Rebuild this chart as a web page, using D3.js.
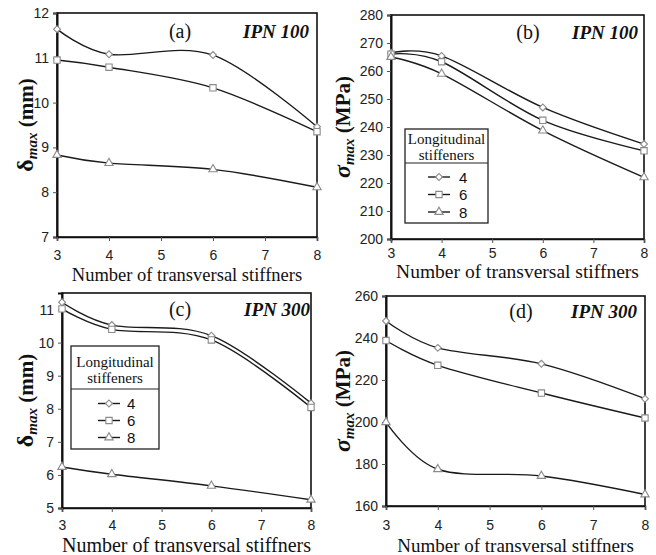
<!DOCTYPE html>
<html><head><meta charset="utf-8">
<script src="https://cdn.jsdelivr.net/npm/d3@7"></script>
<style>
body{margin:0;background:#fff;}
svg{display:block;}
.serif{font-family:'Liberation Serif','Times New Roman',serif;}
.sans{font-family:'Liberation Sans',Arial,sans-serif;}
</style></head>
<body>
<svg id="chart" width="656" height="555"></svg>
<script>
// ---------- data ----------
const xValues = [3, 4, 6, 8];
const xTicks = [3, 4, 5, 6, 7, 8];
const seriesNames = ["4", "6", "8"];

const aSeries4 = [11.64, 11.08, 11.06, 9.46];
const aSeries6 = [10.95, 10.79, 10.33, 9.35];
const aSeries8 = [8.83, 8.65, 8.51, 8.11];

const bSeries4 = [266.5, 265.4, 247.0, 233.9];
const bSeries6 = [266.0, 263.3, 242.4, 231.5];
const bSeries8 = [265.0, 259.0, 238.7, 222.0];

const cSeries4 = [11.22, 10.53, 10.21, 8.17];
const cSeries6 = [11.02, 10.40, 10.08, 8.04];
const cSeries8 = [6.24, 6.02, 5.67, 5.25];

const dSeries4 = [248.1, 235.3, 227.7, 211.1];
const dSeries6 = [238.8, 227.0, 213.8, 201.9];
const dSeries8 = [199.9, 177.5, 174.3, 165.5];

const aTicks = [7, 8, 9, 10, 11, 12];
const bTicks = [200, 210, 220, 230, 240, 250, 260, 270, 280];
const cTicks = [5, 6, 7, 8, 9, 10, 11];
const dTicks = [160, 180, 200, 220, 240, 260];

const xTitle = "Number of transversal stiffners";
const legendTitle = ["Longitudinal", "stiffeners"];

// ---------- layout ----------
const panels = [
  {series:[aSeries4,aSeries6,aSeries8], ticks:aTicks, domain:[7,12],
   box:{x0:57,x1:317,y0:13,y1:237}, sym:"δ", unit:" (mm)", symItalic:false,
   tag:"(a)", tagX:180, ipn:"IPN 100", ipnX:309, hdrY:38,
   xlabOff:18, xTitleY:281, xTitleSize:18.5, yTitleX:33, legend:null},
  {series:[bSeries4,bSeries6,bSeries8], ticks:bTicks, domain:[200,280],
   box:{x0:391,x1:644,y0:15,y1:239}, sym:"σ", unit:" (MPa)", symItalic:true,
   tag:"(b)", tagX:528, ipn:"IPN 100", ipnX:638, hdrY:39,
   xlabOff:14, xTitleY:278, xTitleSize:19.5, yTitleX:350,
   legend:{x0:405,x1:488,y0:129,ySep:163,y1:223,h1:139,h2:155,rows:[177,194.5,212],lx0:428,lx1:450,tx:459}},
  {series:[cSeries4,cSeries6,cSeries8], ticks:cTicks, domain:[5,11.5],
   box:{x0:62,x1:311,y0:293,y1:508}, sym:"δ", unit:" (mm)", symItalic:false,
   tag:"(c)", tagX:180, ipn:"IPN 300", ipnX:310, hdrY:316,
   xlabOff:17, xTitleY:552, xTitleSize:20, yTitleX:33,
   legend:{x0:71,x1:159,y0:346,ySep:389,y1:449,h1:362,h2:378,rows:[403.5,420.5,437.5],lx0:98,lx1:120,tx:127}},
  {series:[dSeries4,dSeries6,dSeries8], ticks:dTicks, domain:[160,260],
   box:{x0:386,x1:645,y0:296,y1:506}, sym:"σ", unit:" (MPa)", symItalic:true,
   tag:"(d)", tagX:521, ipn:"IPN 300", ipnX:637, hdrY:318,
   xlabOff:19, xTitleY:552, xTitleSize:19, yTitleX:350, legend:null}
];

const LINE = "#1a1a1a";
const MARK = "#8a8a8a";
const symbols = [
  {type:d3.symbolSquare, size:24, rot:45},
  {type:d3.symbolSquare, size:40, rot:0},
  {type:d3.symbolTriangle, size:30, rot:0}
];

const svg = d3.select("#chart");

function drawMarker(g, i, x, y) {
  const s = symbols[i];
  g.append("path")
    .attr("d", d3.symbol().type(s.type).size(s.size)())
    .attr("transform", `translate(${x},${y}) rotate(${s.rot})`)
    .attr("fill", "#fff")
    .attr("stroke", MARK)
    .attr("stroke-width", 1.1);
}

panels.forEach(p => {
  const b = p.box;
  const x = d3.scaleLinear().domain([3, 8]).range([b.x0, b.x1]);
  const y = d3.scaleLinear().domain(p.domain).range([b.y1, b.y0]);
  const g = svg.append("g");

  // frame
  g.append("rect").attr("x", b.x0).attr("y", b.y0)
    .attr("width", b.x1 - b.x0).attr("height", b.y1 - b.y0)
    .attr("fill", "none").attr("stroke", "#111").attr("stroke-width", 1.6);

  // y axis
  const ya = g.append("g").attr("transform", `translate(${b.x0},0)`)
    .call(d3.axisLeft(y).tickValues(p.ticks).tickSize(4).tickPadding(4).tickFormat(d3.format("d")));
  ya.attr("font-family", null);
  ya.select(".domain").attr("stroke", "#111").attr("stroke-width", 2);
  ya.selectAll(".tick line").attr("stroke", "#555");
  ya.selectAll("text").attr("class", "sans")
    .attr("font-size", 14).attr("fill", "#222");

  // x axis
  const xa = g.append("g").attr("transform", `translate(0,${b.y1})`)
    .call(d3.axisBottom(x).tickValues(xTicks).tickSize(4).tickPadding(0).tickFormat(d3.format("d")));
  xa.attr("font-family", null);
  xa.select(".domain").attr("stroke", "#111").attr("stroke-width", 1.6);
  xa.selectAll(".tick line").attr("stroke", "#555");
  xa.selectAll("text").attr("class", "sans")
    .attr("font-size", 14).attr("fill", "#222")
    .attr("dy", null).attr("y", p.xlabOff).attr("dominant-baseline", "central");

  // lines
  const line = d3.line().x((d, i) => x(xValues[i])).y(d => y(d))
    .curve(d3.curveCardinal.tension(0));
  p.series.forEach((s, si) => {
    g.append("path").datum(s).attr("d", line)
      .attr("fill", "none").attr("stroke", LINE).attr("stroke-width", 1.4);
  });
  p.series.forEach((s, si) => {
    s.forEach((v, i) => drawMarker(g, si, x(xValues[i]), y(v)));
  });

  // panel tag & IPN label
  g.append("text").attr("x", p.tagX).attr("y", p.hdrY).attr("class", "serif")
    .attr("text-anchor", "middle")
    .attr("font-size", 20).attr("fill", "#111").text(p.tag);
  g.append("text").attr("x", p.ipnX).attr("y", p.hdrY).attr("class", "serif")
    .attr("text-anchor", "end")
    .attr("font-size", 19).attr("font-weight", "bold").attr("font-style", "italic")
    .attr("fill", "#111").text(p.ipn);

  // x title
  g.append("text").attr("x", (b.x0 + b.x1) / 2).attr("y", p.xTitleY).attr("class", "serif")
    .attr("text-anchor", "middle")
    .attr("font-size", p.xTitleSize).attr("fill", "#111").text(xTitle);

  // y title
  const cy = (b.y0 + b.y1) / 2;
  const yt = g.append("text").attr("transform", `translate(${p.yTitleX},${cy}) rotate(-90)`)
    .attr("class", "serif").attr("text-anchor", "middle")
    .attr("font-size", 21).attr("font-weight", "bold").attr("fill", "#111");
  yt.append("tspan").attr("font-style", p.symItalic ? "italic" : "normal")
    .attr("font-size", 24).text(p.sym);
  yt.append("tspan").attr("font-style", "italic").attr("font-size", 15).attr("dy", 4).text("max");
  yt.append("tspan").attr("dy", -4).text(p.unit);

  // legend
  if (p.legend) {
    const L = p.legend;
    const lg = svg.append("g");
    lg.append("rect").attr("x", L.x0).attr("y", L.y0).attr("width", L.x1 - L.x0)
      .attr("height", L.y1 - L.y0).attr("fill", "#fff").attr("stroke", "#222").attr("stroke-width", 1.3);
    lg.append("line").attr("x1", L.x0).attr("x2", L.x1).attr("y1", L.ySep).attr("y2", L.ySep)
      .attr("stroke", "#222").attr("stroke-width", 1.1);
    [L.h1, L.h2].forEach((hy, i) => {
      lg.append("text").attr("x", (L.x0 + L.x1) / 2).attr("y", hy).attr("dominant-baseline", "central")
        .attr("class", "serif").attr("text-anchor", "middle")
        .attr("font-size", 15).attr("fill", "#111").text(legendTitle[i]);
    });
    seriesNames.forEach((n, i) => {
      const ry = L.rows[i];
      lg.append("line").attr("x1", L.lx0).attr("x2", L.lx1).attr("y1", ry).attr("y2", ry)
        .attr("stroke", LINE).attr("stroke-width", 1.4);
      drawMarker(lg, i, (L.lx0 + L.lx1) / 2, ry);
      lg.append("text").attr("x", L.tx).attr("y", ry).attr("dominant-baseline", "central")
        .attr("class", "sans").attr("font-size", 15)
        .attr("fill", "#111").text(n);
    });
  }
});
</script>
</body></html>
